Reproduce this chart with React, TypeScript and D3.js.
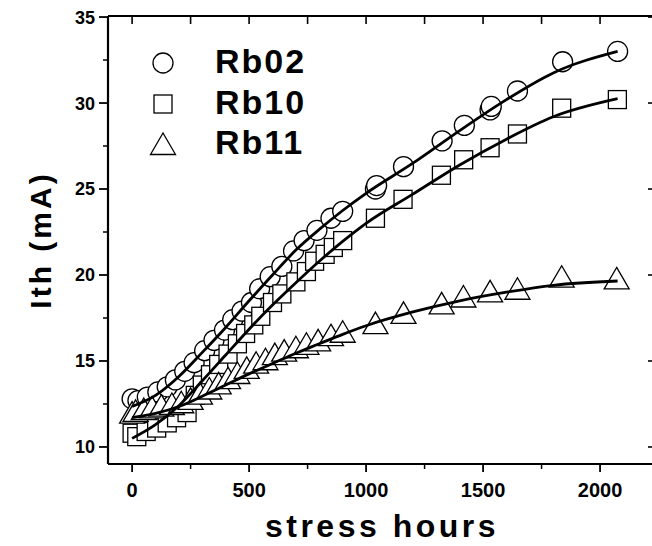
import React from "react";
import * as d3 from "d3";

const hours02 = [0, 25, 65, 110, 150, 185, 225, 265, 310, 350, 395, 430, 470, 510, 545, 590, 640, 690, 735, 790, 850, 900, 1040, 1045, 1160, 1325, 1420, 1530, 1535, 1647, 1840, 2075];
const ith02 = [12.8, 12.7, 12.9, 13.2, 13.5, 13.9, 14.4, 14.9, 15.6, 16.2, 16.8, 17.4, 17.9, 18.4, 19.2, 19.9, 20.5, 21.4, 22.0, 22.6, 23.3, 23.7, 25.0, 25.2, 26.3, 27.8, 28.7, 29.6, 29.8, 30.7, 32.4, 33.0];

const hours10 = [0, 20, 60, 105, 150, 190, 235, 270, 300, 335, 370, 410, 450, 485, 520, 550, 600, 640, 700, 745, 780, 825, 860, 900, 1040, 1158, 1322, 1417, 1530, 1647, 1836, 2074];
const ith10 = [10.8, 10.6, 10.9, 11.1, 11.4, 11.7, 12.0, 13.0, 13.6, 14.2, 14.8, 15.4, 16.0, 16.6, 17.1, 17.6, 18.4, 18.9, 19.6, 20.2, 20.8, 21.2, 21.6, 22.0, 23.3, 24.4, 25.8, 26.7, 27.4, 28.2, 29.7, 30.2];

const hours11 = [0, 15, 50, 85, 125, 170, 210, 250, 290, 330, 370, 410, 450, 490, 530, 570, 610, 650, 700, 745, 795, 850, 900, 1040, 1160, 1323, 1416, 1530, 1647, 1836, 2071];
const ith11 = [12.0, 12.1, 12.2, 12.3, 12.4, 12.5, 12.6, 12.8, 13.1, 13.4, 13.7, 14.0, 14.3, 14.6, 14.9, 15.1, 15.4, 15.6, 15.8, 16.0, 16.2, 16.5, 16.7, 17.2, 17.8, 18.35, 18.75, 19.05, 19.2, 19.9, 19.8];

// ---- fitted trend lines ----
const fitHours = [0, 100, 200, 300, 400, 500, 600, 700, 800, 900, 1000, 1200, 1400, 1600, 1800, 2075];
const fit02 = [12.35, 13.0, 14.1, 15.5, 16.95, 18.5, 20.0, 21.45, 22.65, 23.75, 24.75, 26.5, 28.4, 30.2, 31.75, 33.0];
const fit10 = [10.5, 11.3, 12.4, 13.85, 15.35, 16.85, 18.25, 19.55, 20.8, 21.95, 23.0, 24.7, 26.4, 27.9, 29.2, 30.25];
const fit11 = [11.7, 11.95, 12.35, 12.95, 13.6, 14.25, 14.85, 15.45, 16.0, 16.55, 17.05, 17.85, 18.5, 19.0, 19.4, 19.65];

const seriesNames = ["Rb02", "Rb10", "Rb11"];
const xMajorTicks = [0, 500, 1000, 1500, 2000];
const xMinorTicks = [250, 750, 1250, 1750];
const xTopTicks = [0, 250, 500, 750, 1000, 1250, 1500, 1750, 2000];
const yMajorTicks = [10, 15, 20, 25, 30, 35];
const yMinorTicks = [12.5, 17.5, 22.5, 27.5, 32.5];

const W = 652;
const H = 546;
const L = 108, R = 652, T = 16, B = 464;

export default function App() {
  const x = d3.scaleLinear().domain([-103, 2222]).range([L, R]);
  const y = d3.scaleLinear().domain([9.01, 35.06]).range([B, T]);

  const series = [
    { name: seriesNames[0], hs: hours02, vs: ith02, fit: fit02, shape: "circle" },
    { name: seriesNames[1], hs: hours10, vs: ith10, fit: fit10, shape: "square" },
    { name: seriesNames[2], hs: hours11, vs: ith11, fit: fit11, shape: "triangle" },
  ];

  const line = d3
    .line<number>()
    .x((_, i) => x(fitHours[i]))
    .y((d) => y(d))
    .curve(d3.curveMonotoneX);

  const marker = (shape: string, cx: number, cy: number, key: any) => {
    const sw = 1.3;
    if (shape === "circle")
      return <circle key={key} cx={cx} cy={cy} r={10} fill="#fff" stroke="#000" strokeWidth={sw} />;
    if (shape === "square")
      return <rect key={key} x={cx - 9} y={cy - 9} width={18} height={18} fill="#fff" stroke="#000" strokeWidth={sw} />;
    return (
      <path key={key} d={`M${cx},${cy - 11}L${cx + 12.5},${cy + 10.5}L${cx - 12.5},${cy + 10.5}Z`} fill="#fff" stroke="#000" strokeWidth={sw} />
    );
  };

  const font = "'Liberation Sans', Arial, Helvetica, sans-serif";

  return (
    <svg width={W} height={H} style={{ position: "absolute", left: 0, top: 0, background: "#fff" }} fontFamily={font}>
      {/* frame */}
      <line x1={L} x2={R} y1={T} y2={T} stroke="#000" strokeWidth={2} />
      <line x1={L} x2={R} y1={B} y2={B} stroke="#000" strokeWidth={2.2} />
      <line x1={L} x2={L} y1={T} y2={B} stroke="#000" strokeWidth={2.2} />

      {/* bottom ticks */}
      {xMajorTicks.map((t) => (
        <line key={"xb" + t} x1={x(t)} x2={x(t)} y1={B} y2={B + 8} stroke="#000" strokeWidth={1.8} />
      ))}
      {xMinorTicks.map((t) => (
        <line key={"xbm" + t} x1={x(t)} x2={x(t)} y1={B} y2={B + 5} stroke="#000" strokeWidth={1.5} />
      ))}
      {xTopTicks.map((t) => (
        <line key={"xt" + t} x1={x(t)} x2={x(t)} y1={T} y2={T + 8} stroke="#000" strokeWidth={1.6} />
      ))}
      {xMajorTicks.map((t) => (
        <text key={"xl" + t} x={x(t)} y={497} textAnchor="middle" fontSize={20} fontWeight="bold">
          {t}
        </text>
      ))}

      {/* left / right ticks */}
      {yMajorTicks.map((t) => (
        <line key={"yl" + t} x1={L - 9} x2={L} y1={y(t)} y2={y(t)} stroke="#000" strokeWidth={1.8} />
      ))}
      {yMinorTicks.map((t) => (
        <line key={"ylm" + t} x1={L - 5} x2={L} y1={y(t)} y2={y(t)} stroke="#000" strokeWidth={1.5} />
      ))}
      {yMajorTicks.map((t) => (
        <line key={"yr" + t} x1={R - 4} x2={R} y1={y(t)} y2={y(t)} stroke="#000" strokeWidth={1.6} />
      ))}
      {yMajorTicks.map((t) => (
        <text key={"ytl" + t} x={95} y={y(t)} dy="0.36em" textAnchor="end" fontSize={18} fontWeight="bold">
          {t}
        </text>
      ))}

      {/* markers */}
      {series.map((s, si) => (
        <g key={"m" + si}>{s.hs.map((h, i) => marker(s.shape, x(h), y(s.vs[i]), i))}</g>
      ))}

      {/* fit lines */}
      {series.map((s, si) => (
        <path key={"f" + si} d={line(s.fit) || ""} fill="none" stroke="#000" strokeWidth={2.8} />
      ))}

      {/* legend */}
      {series.map((s, si) => {
        const cy = [63, 104, 144][si];
        return (
          <g key={"lg" + si}>
            {marker(s.shape, 163, cy, "lm" + si)}
            <text x={215} y={cy + 10} fontSize={34} fontWeight="bold" letterSpacing={2}>
              {s.name}
            </text>
          </g>
        );
      })}

      {/* axis titles */}
      <text transform="translate(51,240) rotate(-90)" textAnchor="middle" fontSize={30} fontWeight="bold" letterSpacing={3}>
        Ith (mA)
      </text>
      <text x={382} y={537} textAnchor="middle" fontSize={32} fontWeight="bold" letterSpacing={3.5}>
        stress hours
      </text>
    </svg>
  );
}
